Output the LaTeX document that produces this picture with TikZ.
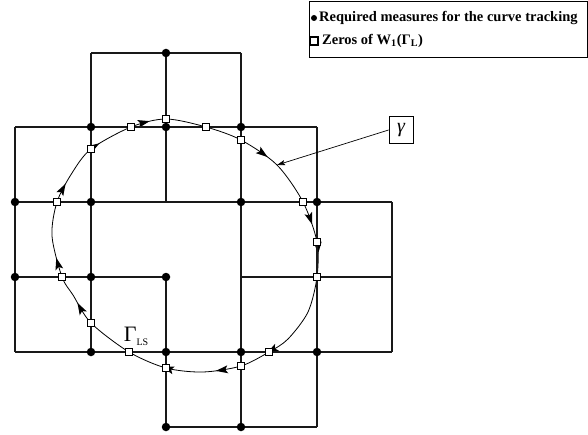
\documentclass[tikz,border=0pt]{standalone}
\usepackage{fontspec}
\setmainfont{Liberation Serif}
\usetikzlibrary{arrows.meta,decorations.markings,backgrounds}

\begin{document}
\begin{tikzpicture}[
        x=1pt, y=-1pt,
        grid/.style={line width=1.1pt, black!90},
        measure/.style={circle, fill=black, minimum size=8.5pt, inner sep=0pt},
        zero/.style={rectangle, draw=black, fill=white, line width=0.8pt, minimum size=7pt, inner sep=0pt},
        curve/.style={line width=0.8pt},
        curvearrow/.style={postaction={decorate, decoration={markings, mark=at position #1 with {\fill[black] (1pt,0pt) -- (-11pt,4pt) -- (-8.5pt,0pt) -- (-11pt,-4pt) -- cycle;}}}},
        pointer/.style={-{Stealth[length=8pt,width=5pt,inset=1.5pt]}, line width=0.7pt},
        gbox/.style={rectangle, draw, line width=0.8pt, minimum width=24pt, minimum height=27pt, inner sep=0pt, font=\itshape\fontsize{20}{20}\selectfont},
        legendbox/.style={rectangle, draw, line width=0.9pt, minimum width=278pt, minimum height=56pt},
        legendtext/.style={anchor=west, inner sep=0pt, font=\bfseries\fontsize{14.5}{16}\selectfont}
    ]
        \useasboundingbox (0,0) rectangle (588,435);

        \draw[grid] (91,53) -- (241,53)
                    (15,127) -- (317,127)
                    (15,202) -- (392,202)
                    (15,277) -- (166,277)  (241,277) -- (392,277)
                    (15,352) -- (392,352)
                    (166,427) -- (317,427);
        \draw[grid] (15,127) -- (15,352)
                    (91,53) -- (91,352)
                    (166,53) -- (166,202)  (166,277) -- (166,427)
                    (241,53) -- (241,427)
                    (317,127) -- (317,427)
                    (392,202) -- (392,352);

        \node[measure] (m1)  at (166,53)  {};
        \node[measure] (m2)  at (91,127)  {};
        \node[measure] (m3)  at (166,127) {};
        \node[measure] (m4)  at (241,127) {};
        \node[measure] (m5)  at (15,202)  {};
        \node[measure] (m6)  at (91,202)  {};
        \node[measure] (m7)  at (241,202) {};
        \node[measure] (m8)  at (317,202) {};
        \node[measure] (m9)  at (15,277)  {};
        \node[measure] (m10) at (91,277)  {};
        \node[measure] (m11) at (166,277) {};
        \node[measure] (m12) at (91,352)  {};
        \node[measure] (m13) at (166,352) {};
        \node[measure] (m14) at (241,352) {};
        \node[measure] (m15) at (317,352) {};
        \node[measure] (m16) at (166,427) {};
        \node[measure] (m17) at (241,427) {};

        \node[zero] (z1)  at (166,119) {};
        \node[zero] (z2)  at (206,127) {};
        \node[zero] (z3)  at (241,140) {};
        \node[zero] (z4)  at (303,202) {};
        \node[zero] (z5)  at (317,242) {};
        \node[zero] (z6)  at (317,277) {};
        \node[zero] (z7)  at (269,352) {};
        \node[zero] (z8)  at (241,366) {};
        \node[zero] (z9)  at (166,368) {};
        \node[zero] (z10) at (129,352) {};
        \node[zero] (z11) at (91,323)  {};
        \node[zero] (z12) at (62,277)  {};
        \node[zero] (z13) at (57,202)  {};
        \node[zero] (z14) at (91,149)  {};
        \node[zero] (z15) at (131,127) {};

        \coordinate (c1) at (277,165);
        \coordinate (c2) at (308,312);
        \coordinate (c3) at (288,339);
        \coordinate (c4) at (203,372);
        \coordinate (c5) at (73,295);
        \coordinate (c6) at (52,236);
        \coordinate (c7) at (72,173);

        \begin{scope}[on background layer]
            \draw[curve, curvearrow/.list={0.084,0.185,0.222,0.369,0.436,0.503,0.637,0.699,0.794,0.860,0.928}]
                plot[smooth cycle] coordinates {(z1.center) (z2.center) (z3.center) (c1) (z4.center) (z5.center) (z6.center) (c2) (c3) (z7.center) (z8.center) (c4) (z9.center) (z10.center) (z11.center) (c5) (z12.center) (c6) (z13.center) (c7) (z14.center) (z15.center)};
        \end{scope}

        \node[gbox] (gamma) at (401,130) {γ};
        \draw[pointer] (gamma.west) -- (c1);
        \node (gls) at (136,336) {\fontsize{22}{22}\selectfont Γ\fontsize{10}{10}\selectfont\raisebox{-4pt}{LS}};

        \node[legendbox] (legend) at (448,29) {};
        \node[measure, minimum size=6pt] (ldot) at (314,18) {};
        \node[legendtext] (lreq) at (319,18) {Required measures for the curve tracking};
        \node[zero, minimum size=8pt, line width=1.4pt] (lzero) at (314,41) {};
        \node[legendtext] (lzeros) at (322,41) {Zeros of W\textsubscript{1}(Γ\textsubscript{L})};
    \end{tikzpicture}
\end{document}
